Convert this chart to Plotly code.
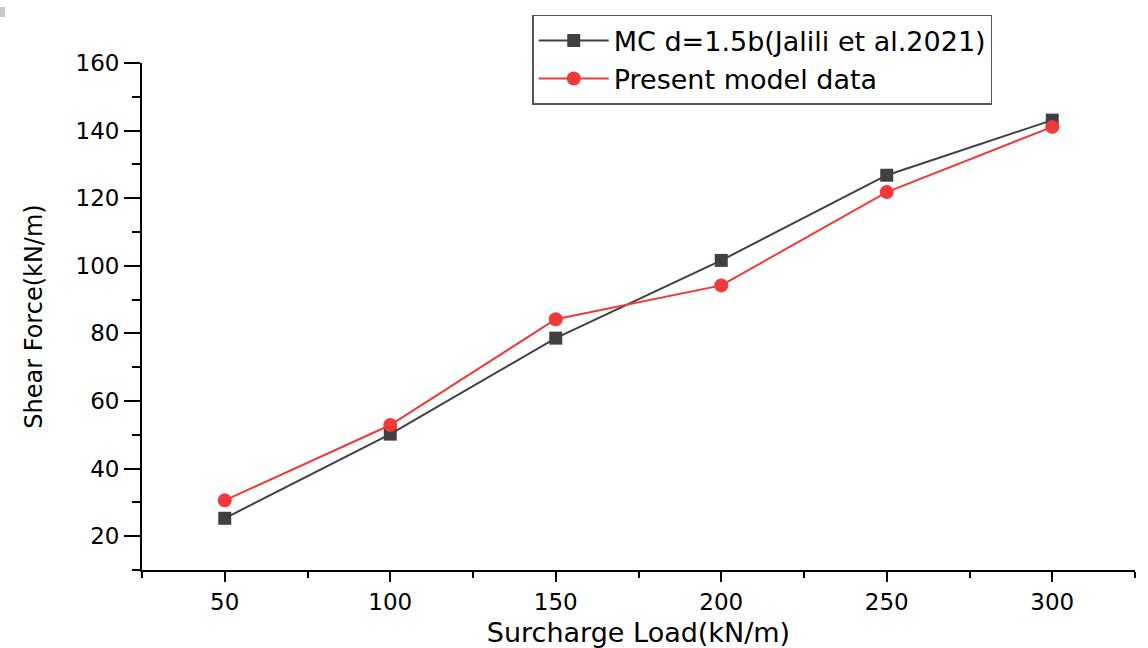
import plotly.graph_objects as go

surcharge_load = [50, 100, 150, 200, 250, 300]
mc_jalili = [25.3, 50.2, 78.6, 101.6, 126.8, 143.1]
present_model = [30.6, 52.9, 84.2, 94.2, 121.8, 141.1]

FONT = "DejaVu Sans, Liberation Sans, Arial, sans-serif"

fig = go.Figure()
fig.add_trace(go.Scatter(
    x=surcharge_load, y=mc_jalili, mode="lines+markers",
    name="MC d=1.5b(Jalili et al.2021)",
    line=dict(color="#404040", width=2),
    marker=dict(symbol="square", size=13, color="#404040"),
))
fig.add_trace(go.Scatter(
    x=surcharge_load, y=present_model, mode="lines+markers",
    name="Present model data",
    line=dict(color="#F03A3A", width=2),
    marker=dict(symbol="circle", size=14, color="#F03A3A"),
))

fig.update_layout(
    width=1148, height=648,
    margin=dict(l=142, r=13, t=63, b=78, autoexpand=False),
    paper_bgcolor="white", plot_bgcolor="white",
    font=dict(family=FONT, color="black"),
    showlegend=True,
    legend=dict(
        x=0.393, y=1.095, xanchor="left", yanchor="top",
        bgcolor="white", bordercolor="#555555", borderwidth=1.5,
        font=dict(size=27, family=FONT, color="black"),
        itemwidth=70, tracegroupgap=0,
    ),
    shapes=[dict(type="rect", xref="paper", yref="paper",
                 x0=-142/993, x1=-137/993, y0=1 + (63-7)/507, y1=1 + (63-17)/507,
                 fillcolor="#c8c8c8", line=dict(width=0))],
)

fig.update_xaxes(
    range=[25, 325], tick0=50, dtick=50, automargin=False,
    showline=True, linecolor="black", linewidth=1.8,
    showgrid=False, zeroline=False, mirror=False,
    ticks="outside", ticklen=10, tickwidth=1.8, tickcolor="black",
    minor=dict(ticks="outside", ticklen=6, tickwidth=1.8, tickcolor="black", dtick=25, tick0=25, showgrid=False),
    tickfont=dict(size=23, family=FONT),
    title=dict(text="Surcharge Load(kN/m)", font=dict(size=27, family=FONT), standoff=10),
)
fig.update_yaxes(
    range=[10, 160], tick0=20, dtick=20, automargin=False,
    showline=True, linecolor="black", linewidth=1.8,
    showgrid=False, zeroline=False, mirror=False,
    ticks="outside", ticklen=16, tickwidth=1.8, tickcolor="black",
    minor=dict(ticks="outside", ticklen=8, tickwidth=1.8, tickcolor="black", dtick=10, tick0=10, showgrid=False),
    tickfont=dict(size=23, family=FONT),
    title=dict(text="Shear Force(kN/m)", font=dict(size=24, family=FONT), standoff=26),
)

fig.write_html("out.html")
